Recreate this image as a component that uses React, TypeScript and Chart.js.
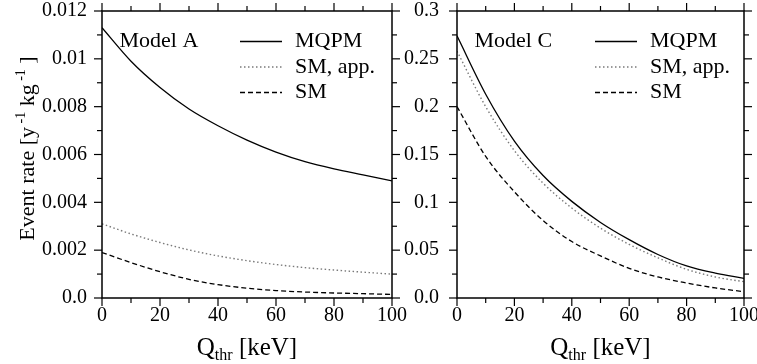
import React, { useEffect, useRef } from 'react';
import { Chart, registerables } from 'chart.js';

Chart.register(...registerables);

const FONT = '"Liberation Serif", "Times New Roman", serif';

// ---- data ----
const qThr = [0, 10, 20, 30, 40, 50, 60, 70, 80, 90, 100];
const seriesLabels = ['MQPM', 'SM, app.', 'SM'];

const modelA_MQPM = [0.0113, 0.0099, 0.0088, 0.0079, 0.0072, 0.0066, 0.0061, 0.0057, 0.0054, 0.00515, 0.0049];
const modelA_SMapp = [0.0031, 0.00268, 0.00232, 0.00201, 0.00176, 0.00156, 0.0014, 0.00127, 0.00117, 0.00108, 0.001];
const modelA_SM = [0.0019, 0.00148, 0.0011, 0.00078, 0.00056, 0.00041, 0.00031, 0.00025, 0.00021, 0.00018, 0.00015];

const modelC_MQPM = [0.274, 0.213, 0.164, 0.128, 0.101, 0.079, 0.061, 0.0455, 0.0335, 0.026, 0.0205];
const modelC_SMapp = [0.258, 0.2, 0.154, 0.12, 0.094, 0.073, 0.056, 0.042, 0.03, 0.022, 0.017];
const modelC_SM = [0.2, 0.148, 0.111, 0.081, 0.059, 0.044, 0.031, 0.022, 0.0157, 0.0105, 0.0066];

const xMajorTicks = [0, 20, 40, 60, 80, 100];
const xTickLabels = ['0', '20', '40', '60', '80', '100'];
const xMinorTicks = [10, 30, 50, 70, 90];

const yMajorTicksA = [0, 0.002, 0.004, 0.006, 0.008, 0.01, 0.012];
const yTickLabelsA = ['0.0', '0.002', '0.004', '0.006', '0.008', '0.01', '0.012'];
const yMinorTicksA = [0.001, 0.003, 0.005, 0.007, 0.009, 0.011];

const yMajorTicksC = [0, 0.05, 0.1, 0.15, 0.2, 0.25, 0.3];
const yTickLabelsC = ['0.0', '0.05', '0.1', '0.15', '0.2', '0.25', '0.3'];
const yMinorTicksC = [0.025, 0.075, 0.125, 0.175, 0.225, 0.275];

// ---- styles ----
const seriesStyles = [
  { color: '#000000', dash: [] as number[], width: 1.3 },
  { color: '#7a7a7a', dash: [1.5, 2.5], width: 1.4 },
  { color: '#000000', dash: [5, 3], width: 1.3 },
];

type Panel = {
  model: string;
  series: number[][];
  yMajor: number[];
  yLabels: string[];
  yMinor: number[];
  padLeft: number;
  yWidth: number;
  padRight: number;
  labelPad: number;
  yTitle: boolean;
};

const panelA: Panel = {
  model: 'Model A',
  series: [modelA_MQPM, modelA_SMapp, modelA_SM],
  yMajor: yMajorTicksA,
  yLabels: yTickLabelsA,
  yMinor: yMinorTicksA,
  padLeft: 0,
  yWidth: 102,
  padRight: 365,
  labelPad: 15,
  yTitle: true,
};

const panelC: Panel = {
  model: 'Model C',
  series: [modelC_MQPM, modelC_SMapp, modelC_SM],
  yMajor: yMajorTicksC,
  yLabels: yTickLabelsC,
  yMinor: yMinorTicksC,
  padLeft: 397,
  yWidth: 60,
  padRight: 13,
  labelPad: 18,
  yTitle: false,
};

function makeDeco(panel: Panel) {
  return {
    id: 'deco',
    afterDraw(chart: any) {
      const ctx: CanvasRenderingContext2D = chart.ctx;
      const { left, right, top, bottom } = chart.chartArea;
      const xs = chart.scales.x;
      const ys = chart.scales.y;
      ctx.save();
      ctx.strokeStyle = '#000';
      ctx.setLineDash([]);
      ctx.lineWidth = 1.5;
      ctx.strokeRect(left, top, right - left, bottom - top);
      ctx.lineWidth = 1.2;
      const seg = (x1: number, y1: number, x2: number, y2: number) => {
        ctx.beginPath();
        ctx.moveTo(x1, y1);
        ctx.lineTo(x2, y2);
        ctx.stroke();
      };
      const MAJ = 8;
      const MIN = 5;
      xMajorTicks.forEach((v) => {
        const p = xs.getPixelForValue(v);
        seg(p, bottom, p, bottom + MAJ);
        seg(p, top, p, top - MAJ);
      });
      xMinorTicks.forEach((v) => {
        const p = xs.getPixelForValue(v);
        seg(p, bottom, p, bottom + MIN);
        seg(p, top, p, top - MIN);
      });
      panel.yMajor.forEach((v) => {
        const p = ys.getPixelForValue(v);
        seg(left, p, left - MAJ, p);
        seg(right, p, right + MAJ, p);
      });
      panel.yMinor.forEach((v) => {
        const p = ys.getPixelForValue(v);
        seg(left, p, left - MIN, p);
        seg(right, p, right + MIN, p);
      });

      // model label and legend
      ctx.fillStyle = '#000';
      ctx.textBaseline = 'middle';
      ctx.textAlign = 'left';
      ctx.font = `22px ${FONT}`;
      ctx.fillText(panel.model, left + 17.5, top + 30.5);
      chart.data.datasets.forEach((ds: any, i: number) => {
        const y = top + 30.5 + i * 25.5;
        ctx.save();
        ctx.strokeStyle = ds.borderColor;
        ctx.lineWidth = ds.borderWidth;
        ctx.setLineDash(ds.borderDash || []);
        seg(left + 138, y, left + 180, y);
        ctx.restore();
        ctx.fillText(ds.label, left + 193, y);
      });

      // x-axis title: Q_thr [keV]
      ctx.textBaseline = 'alphabetic';
      const big = `25px ${FONT}`;
      const small = `16px ${FONT}`;
      ctx.font = big;
      const wQ = ctx.measureText('Q').width;
      const wRest = ctx.measureText(' [keV]').width;
      ctx.font = small;
      const wSub = ctx.measureText('thr').width;
      const total = wQ + wSub + wRest;
      let x0 = (left + right) / 2 - total / 2;
      const base = 355;
      ctx.font = big;
      ctx.fillText('Q', x0, base);
      x0 += wQ;
      ctx.font = small;
      ctx.fillText('thr', x0, base + 5);
      x0 += wSub;
      ctx.font = big;
      ctx.fillText(' [keV]', x0, base);

      // y-axis title
      if (panel.yTitle) {
        const f22 = `22px ${FONT}`;
        const f14 = `14px ${FONT}`;
        const parts: [string, string, number][] = [
          ['Event rate [y', f22, 0],
          [' -1', f14, -9],
          [' kg', f22, 0],
          [' -1', f14, -9],
          [' ]', f22, 0],
        ];
        let tw = 0;
        parts.forEach(([t, f]) => {
          ctx.font = f;
          tw += ctx.measureText(t).width;
        });
        ctx.translate(34, (top + bottom) / 2 - 6);
        ctx.rotate(-Math.PI / 2);
        let px = -tw / 2;
        parts.forEach(([t, f, dy]) => {
          ctx.font = f;
          ctx.fillText(t, px, dy);
          px += ctx.measureText(t).width;
        });
      }
      ctx.restore();
    },
  };
}

function buildConfig(panel: Panel): any {
  return {
    type: 'line',
    data: {
      datasets: panel.series.map((arr, i) => ({
        label: seriesLabels[i],
        data: qThr.map((q, k) => ({ x: q, y: arr[k] })),
        borderColor: seriesStyles[i].color,
        borderDash: seriesStyles[i].dash,
        borderWidth: seriesStyles[i].width,
        pointRadius: 0,
        fill: false,
        cubicInterpolationMode: 'monotone',
      })),
    },
    options: {
      responsive: false,
      animation: false,
      devicePixelRatio: 1,
      layout: {
        autoPadding: false,
        padding: { left: panel.padLeft, right: panel.padRight, top: 11, bottom: 0 },
      },
      plugins: {
        legend: { display: false },
        tooltip: { enabled: false },
      },
      scales: {
        x: {
          type: 'linear',
          min: 0,
          max: 100,
          grid: { display: false, drawTicks: false },
          border: { display: false },
          afterBuildTicks: (s: any) => {
            s.ticks = xMajorTicks.map((v) => ({ value: v }));
          },
          afterFit: (s: any) => {
            s.height = 66;
            s.paddingLeft = 0;
            s.paddingRight = 0;
          },
          ticks: {
            autoSkip: false,
            maxRotation: 0,
            padding: 6,
            color: '#000',
            font: { family: FONT, size: 20 },
            callback: (_v: any, i: number) => xTickLabels[i],
          },
        },
        y: {
          type: 'linear',
          min: 0,
          max: panel.yMajor[panel.yMajor.length - 1],
          grid: { display: false, drawTicks: false },
          border: { display: false },
          afterBuildTicks: (s: any) => {
            s.ticks = panel.yMajor.map((v) => ({ value: v }));
          },
          afterFit: (s: any) => {
            s.width = panel.yWidth;
            s.paddingTop = 0;
            s.paddingBottom = 0;
          },
          ticks: {
            autoSkip: false,
            padding: panel.labelPad,
            color: '#000',
            font: { family: FONT, size: 20 },
            callback: (_v: any, i: number) => panel.yLabels[i],
          },
        },
      },
    },
    plugins: [makeDeco(panel)],
  };
}

export default function App() {
  const refA = useRef<HTMLCanvasElement>(null);
  const refC = useRef<HTMLCanvasElement>(null);
  useEffect(() => {
    const a = new Chart(refA.current as HTMLCanvasElement, buildConfig(panelA));
    const c = new Chart(refC.current as HTMLCanvasElement, buildConfig(panelC));
    return () => {
      a.destroy();
      c.destroy();
    };
  }, []);
  const cs: React.CSSProperties = { position: 'absolute', left: 0, top: 0, width: 757, height: 364 };
  return (
    <div style={{ position: 'fixed', left: 0, top: 0, width: 757, height: 364, background: '#fff' }}>
      <canvas ref={refA} width={757} height={364} style={cs} />
      <canvas ref={refC} width={757} height={364} style={cs} />
    </div>
  );
}
